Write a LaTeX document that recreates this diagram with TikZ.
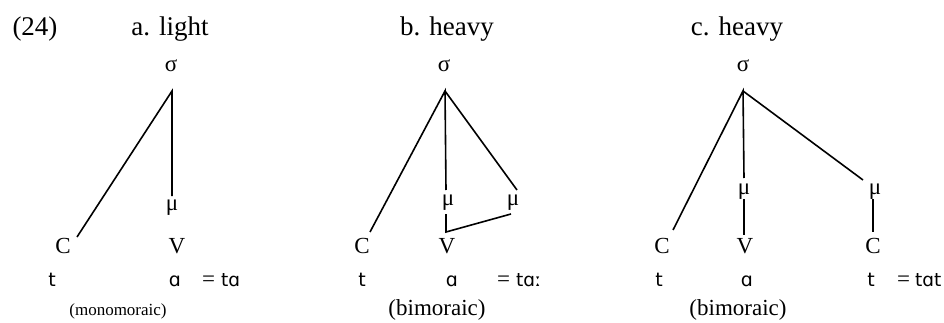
\documentclass[tikz,border=0pt]{standalone}
\usepackage{fontspec}
\setmainfont{Liberation Serif}
\newfontfamily\ipaf{DejaVu Sans}
\newcommand\ipasz{\ipaf\fontsize{18.5}{22}\selectfont}
\begin{document}
\begin{tikzpicture}[x=1pt,y=-1pt,
  hd/.style={font=\fontsize{27}{30}\selectfont, inner sep=0pt, anchor=base},
  seg/.style={font=\fontsize{23}{26}\selectfont, inner sep=0pt, anchor=base},
  ipa/.style={font=\ipaf\fontsize{19}{22}\selectfont, inner sep=0pt, anchor=base},
  gr/.style={font=\fontsize{23}{26}\selectfont, inner sep=0pt},
  eqn/.style={font=\fontsize{23}{26}\selectfont, inner sep=0pt, anchor=base west},
  captxt/.style={inner sep=0pt, anchor=base},
  ln/.style={line width=1.6pt}]
\useasboundingbox (0,0) rectangle (944,323);
% headers
\node[hd] (n24) at (35,36) {(24)};
\node[hd] (ha) at (170,36) {a. light};
\node[hd] (hb) at (447,36) {b. heavy};
\node[hd] (hc) at (737,36) {c. heavy};
% ---------- panel a
\node[gr] (sa) at (171,66) {σ};
\node[gr] (ma) at (172,208) {μ};
\node[seg] (Ca) at (63,253) {C};
\node[seg] (Va) at (177,253) {V};
\node[ipa] (ta) at (52,286) {t};
\node[ipa] (aa) at (175,286) {ɑ};
\node[eqn] (ea) at (202,286) {=\hspace{6pt}{\ipasz tɑ}};
\node[captxt, font=\fontsize{17}{20}\selectfont] (mono) at (118,315) {(monomoraic)};
\coordinate (sa1) at (172,91);
\coordinate (ca1) at (77,237);
\coordinate (ma1) at (172,196);
\draw[ln] (ca1) -- (sa1) -- (ma1);
% ---------- panel b
\node[gr] (sb) at (444,66) {σ};
\node[gr] (mb1) at (448,203) {μ};
\node[gr] (mb2) at (513,203) {μ};
\node[seg] (Cb) at (362,253) {C};
\node[seg] (Vb) at (447,253) {V};
\node[ipa] (tb) at (362,286) {t};
\node[ipa] (ab) at (452,286) {ɑ};
\node[eqn] (eb) at (497,286) {=\hspace{6pt}{\ipasz tɑː}};
\node[captxt, font=\fontsize{23}{26}\selectfont] (bib) at (437,315) {(bimoraic)};
\coordinate (sb1) at (445,91);
\coordinate (cb1) at (370,232);
\coordinate (mb1t) at (446,190);
\coordinate (mb2t) at (517,190);
\coordinate (mb1b) at (446,214);
\coordinate (vb1) at (446,232);
\coordinate (mb2b) at (511,214);
\draw[ln] (cb1) -- (sb1) -- (mb1t);
\draw[ln] (sb1) -- (mb2t);
\draw[ln] (mb1b) -- (vb1) -- (mb2b);
% ---------- panel c
\node[gr] (sc) at (743,66) {σ};
\node[gr] (mc1) at (744,192) {μ};
\node[gr] (mc2) at (875,192) {μ};
\node[seg] (Cc1) at (662,253) {C};
\node[seg] (Vc) at (745,253) {V};
\node[seg] (Cc2) at (873,253) {C};
\node[ipa] (tc1) at (659,286) {t};
\node[ipa] (ac) at (747,286) {ɑ};
\node[ipa] (tc2) at (871,286) {t};
\node[eqn] (ec) at (897,286) {=\hspace{5pt}{\ipasz tɑt}};
\node[captxt, font=\fontsize{23}{26}\selectfont] (bic) at (738,315) {(bimoraic)};
\coordinate (sc1) at (743,91);
\coordinate (cc1) at (673,230);
\coordinate (mc1t) at (744,178);
\coordinate (mc2t) at (863,180);
\coordinate (mc1b) at (744,199);
\coordinate (vc1) at (744,235);
\coordinate (mc2b) at (873,199);
\coordinate (cc2) at (873,232);
\draw[ln] (cc1) -- (sc1) -- (mc1t);
\draw[ln] (sc1) -- (mc2t);
\draw[ln] (mc1b) -- (vc1);
\draw[ln] (mc2b) -- (cc2);
\end{tikzpicture}
\end{document}
